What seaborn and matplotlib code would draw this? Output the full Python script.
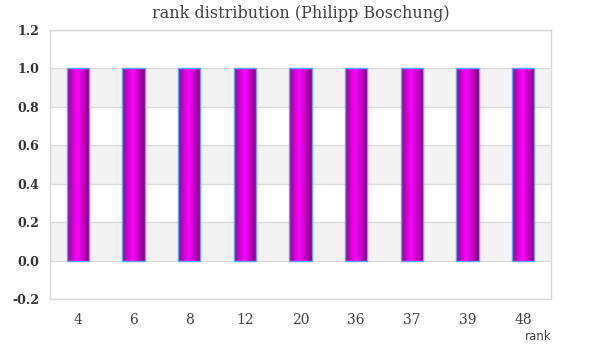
import numpy as np
import matplotlib
matplotlib.use("Agg")
import matplotlib.pyplot as plt
from matplotlib.colors import LinearSegmentedColormap
import seaborn as sns
import pandas as pd

# data
ranks = ["4", "6", "8", "12", "20", "36", "37", "39", "48"]
counts = [1, 1, 1, 1, 1, 1, 1, 1, 1]

df = pd.DataFrame({"rank": ranks, "count": counts})

sns.set_style("white")
plt.rcParams["font.family"] = ["DejaVu Serif"]

fig = plt.figure(figsize=(6, 3.6), dpi=100)
ax = fig.add_axes([50 / 600, 1 - 299 / 360, 501 / 600, 269 / 360])

sns.barplot(data=df, x="rank", y="count", order=ranks, width=0.4,
            color="#ff00ff", edgecolor="#55aaff", linewidth=1, ax=ax, zorder=3)
bars = list(ax.patches)

# gradient fill for bars (dark edges, bright middle)
cmap = LinearSegmentedColormap.from_list(
    "bar", [(0, "#990099"), (0.45, "#ff00ff"), (1, "#7a007a")])
grad = np.linspace(0, 1, 256).reshape(1, -1)
for p in bars:
    x0, y0 = p.get_x(), p.get_y()
    w, h = p.get_width(), p.get_height()
    im = ax.imshow(grad, cmap=cmap, extent=[x0, x0 + w, y0, y0 + h],
                   aspect="auto", zorder=2, origin="lower")
    im.set_clip_path(p)
    p.set_facecolor("none")

# alternating bands
for lo in [0.0, 0.4, 0.8]:
    ax.axhspan(lo, lo + 0.2, color="#f3f3f3", zorder=0, lw=0)

ax.set_xlim(-0.5, len(ranks) - 0.5)
ax.set_ylim(-0.2, 1.2)
yt = np.arange(-0.2, 1.21, 0.2)
ax.set_yticks(yt)
ax.set_yticklabels(["%.1f" % v for v in yt])
ax.yaxis.grid(True, color="#dddddd", lw=1, zorder=1)
ax.set_axisbelow(True)

for s in ax.spines.values():
    s.set_color("#d9d9d9")
    s.set_linewidth(1)

ax.tick_params(axis="both", length=0, colors="#333333")
ax.tick_params(axis="x", labelsize=10, pad=10, labelcolor="#444444")
ax.tick_params(axis="y", labelsize=9, pad=8)
for t in ax.get_yticklabels():
    t.set_fontweight("bold")

ax.set_ylabel("")
ax.set_xlabel("rank", fontsize=8.5, color="#444444", family="DejaVu Sans")
ax.xaxis.set_label_coords(0.975, -0.115)

ax.set_title("rank distribution (Philipp Boschung)", fontsize=11.5,
             color="#444444", pad=9)

fig.savefig("out.png", dpi=100)
